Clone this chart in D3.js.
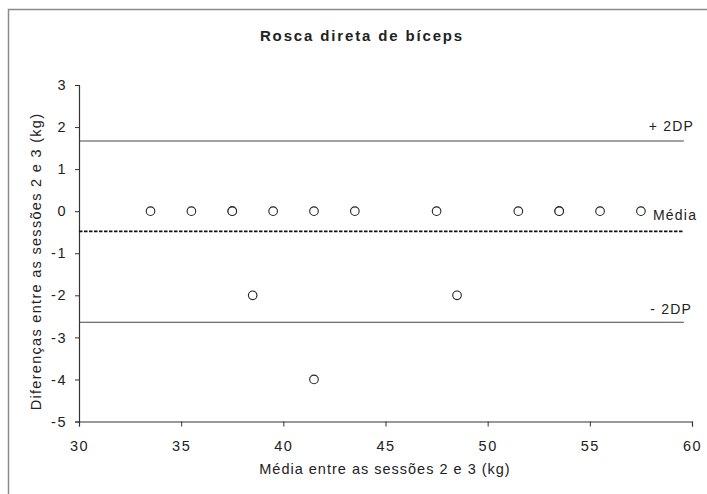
<!DOCTYPE html>
<html>
<head>
<meta charset="utf-8">
<script src="https://d3js.org/d3.v7.min.js"></script>
<style>
  body { margin: 0; background: #fff; }
  text { font-family: "Liberation Sans", Arial, sans-serif; fill: #222; }
</style>
</head>
<body>
<svg id="chart"></svg>
<script>
// media entre as sessoes (x) e diferencas (y)
var mediaSessoes = [33.5, 35.5, 37.5, 37.5, 39.5, 41.5, 43.5, 47.5, 51.5, 53.5, 53.5, 55.5, 57.5, 38.5, 48.5, 41.5];
var diferencas   = [0, 0, 0, 0, 0, 0, 0, 0, 0, 0, 0, 0, 0, -2, -2, -4];

var xTicks = [30, 35, 40, 45, 50, 55, 60];
var yTicks = [-5, -4, -3, -2, -1, 0, 1, 2, 3];

// linhas de referencia
var media = -0.48;
var mais2DP = 1.67;
var menos2DP = -2.64;
var linhaFim = 59.6;

var width = 707,
    height = 494;

var svg = d3.select("#chart")
    .attr("width", width)
    .attr("height", height);

// moldura
svg.append("path")
  .attr("d", "M8.5,494 L8.5,9.5 L707,9.5")
  .attr("fill", "none")
  .attr("stroke", "#8a8a8a")
  .attr("stroke-width", 1.5);

var x = d3.scaleLinear().domain([30, 60]).range([79, 692]);
var y = d3.scaleLinear().domain([-5, 3]).range([421.5, 85]);

var xAxis = svg.append("g")
  .attr("transform", "translate(0," + y(-5) + ")")
  .call(d3.axisBottom(x).tickValues(xTicks).tickFormat(d => String(d)).tickSize(5).tickPadding(14));

var yAxis = svg.append("g")
  .attr("transform", "translate(" + x(30) + ",0)")
  .call(d3.axisLeft(y).tickValues(yTicks).tickFormat(d => String(d)).tickSize(4).tickPadding(8));

[xAxis, yAxis].forEach(function(a) {
  a.select(".domain").attr("stroke", "#333").attr("stroke-width", 1.2);
  a.selectAll(".tick line").attr("stroke", "#333");
  a.selectAll(".tick text")
    .style("font-family", "'Liberation Sans', Arial, sans-serif")
    .style("font-size", "14.5px")
    .style("letter-spacing", "1.5px")
    .attr("fill", "#222");
});

// linhas +2DP / -2DP
[mais2DP, menos2DP].forEach(function(v) {
  svg.append("line")
    .attr("x1", x(30)).attr("x2", x(linhaFim))
    .attr("y1", y(v)).attr("y2", y(v))
    .attr("stroke", "#444")
    .attr("stroke-width", 1.1);
});

svg.append("line")
  .attr("x1", x(30)).attr("x2", x(linhaFim))
  .attr("y1", y(media)).attr("y2", y(media))
  .attr("stroke", "#111")
  .attr("stroke-width", 1.6)
  .attr("stroke-dasharray", "3.5,1.5");

// pontos
svg.selectAll(".ponto")
  .data(mediaSessoes)
  .enter()
  .append("circle")
    .attr("class", "ponto")
    .attr("cx", function(d) { return x(d); })
    .attr("cy", function(d, i) { return y(diferencas[i]); })
    .attr("r", 4.3)
    .attr("fill", "#fff")
    .attr("stroke", "#222")
    .attr("stroke-width", 1.1);

// rotulos das linhas
svg.append("text")
  .attr("x", 694).attr("y", 131)
  .style("text-anchor", "end")
  .style("font-size", "14px")
  .style("letter-spacing", "1.2px")
  .text("+ 2DP");

svg.append("text")
  .attr("x", 692).attr("y", 314)
  .style("text-anchor", "end")
  .style("font-size", "14px")
  .style("letter-spacing", "1.2px")
  .text("- 2DP");

svg.append("text")
  .attr("x", 653).attr("y", 220)
  .style("font-size", "14px")
  .style("letter-spacing", "1.2px")
  .text("Média");

// titulo
svg.append("text")
  .attr("x", 362).attr("y", 41)
  .style("text-anchor", "middle")
  .style("font-size", "15px")
  .style("font-weight", "bold")
  .style("letter-spacing", "1.85px")
  .text("Rosca direta de bíceps");

svg.append("text")
  .attr("x", 385).attr("y", 474)
  .style("text-anchor", "middle")
  .style("font-size", "14.5px")
  .style("letter-spacing", "1px")
  .text("Média entre as sessões 2 e 3 (kg)");

svg.append("text")
  .attr("transform", "translate(41," + 261.5 + ") rotate(-90)")
  .style("text-anchor", "middle")
  .style("font-size", "14.5px")
  .style("letter-spacing", "1.3px")
  .text("Diferenças entre as sessões 2 e 3 (kg)");
</script>
</body>
</html>
